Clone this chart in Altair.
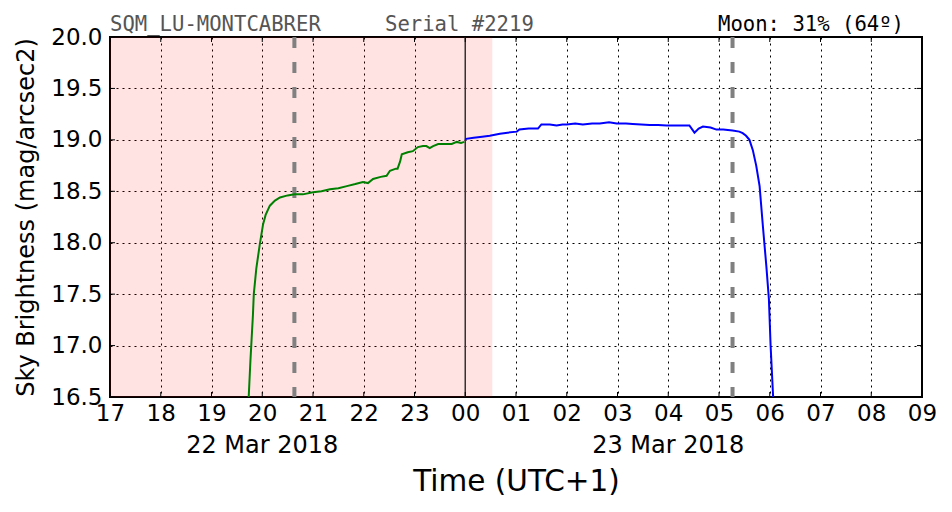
import altair as alt
import pandas as pd

# ---- data ----
green_times = ["19:44", "19:46", "19:47", "19:49", "19:50", "19:53", "19:57", "20:01", "20:04", "20:09",
               "20:15", "20:21", "20:30", "20:38", "20:48", "21:00", "21:10", "21:20", "21:30", "21:40",
               "21:50", "21:59", "22:05", "22:11", "22:20", "22:27", "22:31", "22:38", "22:40", "22:43",
               "22:45", "22:52", "22:58", "23:04", "23:10", "23:14", "23:18", "23:22", "23:28", "23:36",
               "23:44", "23:50", "23:55", "23:59"]
green_mag = [16.50, 16.85, 17.00, 17.30, 17.50, 17.75, 17.98, 18.18, 18.27, 18.36,
             18.41, 18.44, 18.46, 18.47, 18.47, 18.49, 18.50, 18.52, 18.53, 18.55,
             18.57, 18.59, 18.58, 18.62, 18.64, 18.65, 18.70, 18.72, 18.72, 18.79,
             18.86, 18.88, 18.89, 18.93, 18.94, 18.94, 18.92, 18.94, 18.96, 18.96,
             18.96, 18.98, 18.97, 18.98]

blue_times = ["00:00", "00:01", "00:10", "00:20", "00:29", "00:35", "00:41", "00:50", "01:01", "01:04",
              "01:15", "01:26", "01:30", "01:40", "01:48", "01:55", "02:00", "02:10", "02:19", "02:30",
              "02:39", "02:50", "02:59", "03:10", "03:18", "03:28", "03:38", "03:48", "03:58", "04:10",
              "04:25", "04:31", "04:36", "04:41", "04:50", "04:57", "05:05", "05:16", "05:24", "05:28",
              "05:32", "05:36", "05:40", "05:44", "05:48", "05:52", "05:56", "05:59", "06:01", "06:04"]
blue_mag = [19.00, 19.01, 19.02, 19.03, 19.04, 19.05, 19.06, 19.07, 19.08, 19.10,
            19.11, 19.11, 19.15, 19.15, 19.14, 19.15, 19.15, 19.16, 19.15, 19.16,
            19.16, 19.17, 19.16, 19.16, 19.155, 19.15, 19.145, 19.145, 19.14, 19.14,
            19.14, 19.07, 19.11, 19.13, 19.12, 19.10, 19.10, 19.09, 19.08, 19.065,
            19.04, 19.00, 18.90, 18.75, 18.55, 18.15, 17.77, 17.45, 17.00, 16.50]

x_ticks = list(range(0, 17))             # hours after 17:00 on 22 Mar
y_ticks = [16.5, 17.0, 17.5, 18.0, 18.5, 19.0, 19.5, 20.0]
twilight_end = "00:32"                    # end of pink band
midnight = "00:00"
dashed_marks = ["20:38", "05:16"]
date_labels = ["22 Mar 2018", "23 Mar 2018"]
date_label_hours = [3, 11]
title_site = "SQM_LU-MONTCABRER"
title_serial = "Serial #2219"
title_moon = "Moon: 31% (64º)"


def to_h(t):
    hh, mm = map(int, t.split(":"))
    h = hh + mm / 60.0
    return h - 17 if hh >= 12 else h + 7


line_df = pd.DataFrame({
    "h": [to_h(t) for t in green_times] + [to_h(t) for t in blue_times],
    "mag": green_mag + blue_mag,
    "seg": ["dusk"] * len(green_times) + ["night"] * len(blue_times),
})
band_df = pd.DataFrame({"x0": [0.0], "x1": [to_h(twilight_end)]})
mid_df = pd.DataFrame({"h": [to_h(midnight)]})
dash_df = pd.DataFrame({"h": [to_h(t) for t in dashed_marks]})
date_df = pd.DataFrame({"h": date_label_hours, "label": date_labels})
xt_df = pd.DataFrame({"h": x_ticks})
yt_df = pd.DataFrame({"mag": y_ticks})

W, H = 812, 360
TICK = 5
FONT = "DejaVu Sans"
MONO = "DejaVu Sans Mono"

xscale = alt.Scale(domain=[0, 16], nice=False, zero=False)
yscale = alt.Scale(domain=[16.5, 20.0], nice=False, zero=False)

label_expr = ("((datum.value + 17) % 24) < 10 ? '0' + ((datum.value + 17) % 24) : '' + ((datum.value + 17) % 24)")

x_axis = alt.Axis(values=x_ticks, labelExpr=label_expr, title="Time (UTC+1)",
                  titleFont=FONT, titleFontSize=29.5, titleFontWeight="normal", titleColor="black",
                  titlePadding=42, labelFont=FONT, labelFontSize=23, labelColor="black",
                  labelPadding=5, labelFlush=False, labelOverlap=False,
                  ticks=False, domain=False, grid=True, gridColor="black",
                  gridDash=[2, 4], gridWidth=1, gridOpacity=1)
y_axis = alt.Axis(values=y_ticks, format=".1f", title="Sky Brightness (mag/arcsec2)",
                  titleFont=FONT, titleFontSize=24, titleFontWeight="normal", titleColor="black",
                  titlePadding=12, labelFont=FONT, labelFontSize=23, labelColor="black",
                  labelPadding=8, labelFlush=False, labelOverlap=False,
                  ticks=False, domain=False, grid=True, gridColor="black",
                  gridDash=[2, 4], gridWidth=1, gridOpacity=1)

band = alt.Chart(band_df).mark_rect(color="red", opacity=0.11).encode(
    x=alt.X("x0:Q", scale=xscale, axis=x_axis),
    x2="x1:Q",
)

mid = alt.Chart(mid_df).mark_rule(color="#333333", strokeWidth=1.5).encode(
    x=alt.X("h:Q", scale=xscale)
)

dashes = alt.Chart(dash_df).mark_rule(color="#808080", strokeWidth=4, strokeDash=[11, 14]).encode(
    x=alt.X("h:Q", scale=xscale)
)

lines = alt.Chart(line_df).mark_line(strokeWidth=2, clip=True).encode(
    x=alt.X("h:Q", scale=xscale),
    y=alt.Y("mag:Q", scale=yscale, axis=y_axis),
    color=alt.Color("seg:N", scale=alt.Scale(domain=["dusk", "night"], range=["#008000", "#0000ff"]),
                    legend=None),
)

# inward tick marks on all four sides
xt_bottom = alt.Chart(xt_df).mark_rule(color="black", strokeWidth=1).encode(
    x=alt.X("h:Q", scale=xscale), y=alt.value(H), y2=alt.value(H - TICK))
xt_top = alt.Chart(xt_df).mark_rule(color="black", strokeWidth=1).encode(
    x=alt.X("h:Q", scale=xscale), y=alt.value(0), y2=alt.value(TICK))
yt_left = alt.Chart(yt_df).mark_rule(color="black", strokeWidth=1).encode(
    y=alt.Y("mag:Q", scale=yscale), x=alt.value(0), x2=alt.value(TICK))
yt_right = alt.Chart(yt_df).mark_rule(color="black", strokeWidth=1).encode(
    y=alt.Y("mag:Q", scale=yscale), x=alt.value(W), x2=alt.value(W - TICK))

dates = alt.Chart(date_df).mark_text(font=FONT, fontSize=24, color="black", baseline="middle",
                                     align="center").encode(
    x=alt.X("h:Q", scale=xscale),
    y=alt.value(H + 49),
    text="label:N",
)

site = alt.Chart(pd.DataFrame({"t": [title_site]})).mark_text(
    font=MONO, fontSize=20.6, color="#555555", align="left", baseline="alphabetic").encode(
    x=alt.value(0), y=alt.value(-6), text="t:N")
serial = alt.Chart(pd.DataFrame({"t": [title_serial]})).mark_text(
    font=MONO, fontSize=20.6, color="#555555", align="left", baseline="alphabetic").encode(
    x=alt.value(275), y=alt.value(-6), text="t:N")
moon = alt.Chart(pd.DataFrame({"t": [title_moon]})).mark_text(
    font=MONO, fontSize=20.6, color="black", align="right", baseline="alphabetic").encode(
    x=alt.value(794), y=alt.value(-6), text="t:N")

chart = alt.layer(band, mid, dashes, lines, xt_bottom, xt_top, yt_left, yt_right,
                  dates, site, serial, moon).properties(
    width=W, height=H,
    autosize=alt.AutoSizeParams(type="none"),
    padding={"left": 110, "top": 37, "right": 30, "bottom": 115},
    background="white",
).configure_view(stroke="black", strokeWidth=2)

chart.save("out.html", embed_options={"renderer": "svg", "actions": False})
